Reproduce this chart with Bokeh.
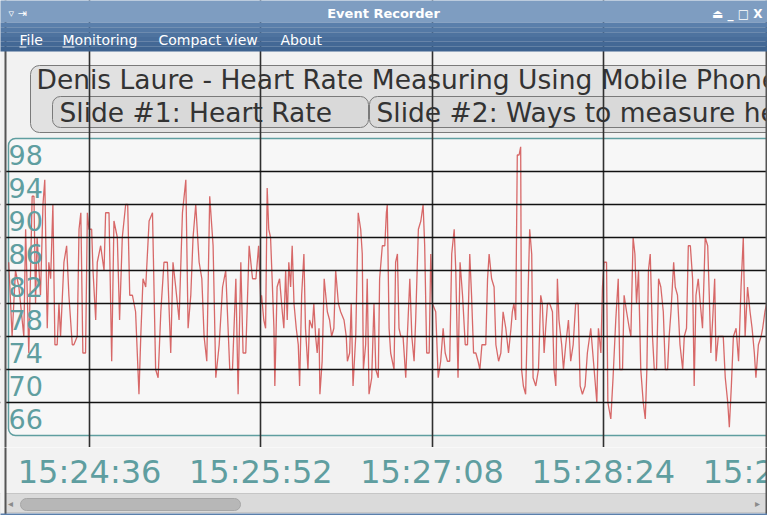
from bokeh.plotting import figure
from bokeh.layouts import column
from bokeh.models import Range1d, FixedTicker, Grid, BoxAnnotation, Label
from bokeh.core.properties import value
from bokeh.embed import file_html
from bokeh.resources import INLINE

# ---------------- data (seconds elapsed since 15:24:00, heart rate in bpm) ----------------
seconds_part1 = [0.1, 1.6, 3.1, 4.6, 6.8, 7.6, 9.0, 10.5, 11.3, 12.0,
                 12.7, 14.2, 15.3, 16.1, 17.2, 17.9, 18.7, 19.7, 20.6, 21.6,
                 22.4, 23.1, 24.6, 25.8, 26.8, 28.3, 29.0, 30.5, 31.3, 32.1,
                 33.0, 34.2, 35.0, 35.7, 36.9, 37.5, 38.7, 39.4, 40.9, 42.4,
                 43.1, 44.6, 45.8, 46.8, 48.3, 49.3, 50.5, 52.0, 52.9, 53.8,
                 55.0, 56.4, 57.9, 58.7, 59.7, 60.9, 62.4, 63.9, 65.3, 66.4,
                 67.6, 69.0, 70.5, 72.0, 73.0, 74.2, 75.7, 77.2, 78.7, 79.7,
                 80.9, 81.9, 83.1, 84.6, 85.8, 86.8, 88.0, 89.3, 90.8, 92.0,
                 93.5, 95.0, 96.4, 98.2, 99.4, 100.9, 101.9, 103.1, 104.1, 105.3,
                 106.8, 108.3, 109.8, 111.0, 112.0]
bpm_part1 = [85, 76, 84, 82, 76, 89, 74, 93, 93, 80,
             88, 81, 92, 95, 77, 85, 83, 92, 75, 75,
             80, 76, 85, 87, 81, 75, 75, 76, 89, 91,
             74, 74, 91, 89, 89, 84, 78, 85, 87, 84,
             91, 91, 73, 90, 88, 78, 88, 92, 92, 81,
             81, 79, 69, 76, 83, 82, 90, 91, 72, 71,
             79, 85, 85, 74, 85, 82, 78, 91, 95, 77,
             81, 88, 92, 85, 83, 76, 73, 93, 87, 71,
             75, 82, 84, 72, 72, 83, 69, 85, 74, 74,
             87, 83, 83, 87, 80]

seconds_part2 = [112.3, 113.3, 114.1, 114.8, 115.5, 116.3, 117.0, 117.8, 118.2, 119.2,
                 120.3, 121.5, 122.2, 123.0, 123.7, 124.4, 125.2, 125.9, 126.7, 127.7,
                 128.6, 129.2, 130.1, 131.1, 131.8, 132.9, 133.6, 134.8, 135.5, 136.3,
                 137.0, 137.8, 138.2, 139.2, 140.1, 141.5, 142.5, 143.4, 144.4, 145.2,
                 146.4, 147.4, 148.9, 149.9, 150.4, 151.4, 152.1, 152.9, 154.1, 155.2,
                 156.3, 157.0, 157.5, 158.5, 159.2, 160.0, 161.2, 162.2, 163.0, 164.1,
                 164.7, 165.9, 167.0, 167.7, 168.1, 168.9, 169.6, 171.1, 171.8, 172.6,
                 173.3, 174.1, 175.1, 176.3, 177.0, 178.1, 179.0, 180.0, 180.7, 181.9,
                 183.0, 184.0, 184.7, 185.6, 186.7, 187.4, 188.1, 189.6, 190.7, 191.8,
                 192.9, 193.8, 194.8, 195.8, 196.7, 197.8, 198.5, 199.5, 200.4, 201.5,
                 202.7, 203.7, 204.7, 205.5, 206.4, 207.4, 208.4, 209.2, 210.1, 211.8,
                 212.6, 213.3, 214.4, 215.5, 216.3, 217.5, 218.5, 219.5, 220.7, 221.9,
                 223.0]
bpm_part2 = [81, 78, 77, 94, 89, 88, 83, 77, 70, 82,
             83, 79, 77, 84, 78, 85, 82, 87, 80, 77,
             75, 70, 81, 86, 77, 72, 78, 77, 80, 76,
             74, 77, 69, 73, 83, 79, 78, 76, 77, 84,
             80, 79, 78, 76, 73, 74, 80, 70, 76, 91,
             89, 86, 72, 75, 83, 69, 71, 80, 72, 71,
             83, 87, 87, 91, 92, 77, 74, 72, 85, 86,
             77, 76, 76, 71, 76, 83, 76, 73, 78, 89,
             90, 92, 87, 74, 74, 86, 80, 79, 71, 73,
             77, 74, 73, 73, 86, 89, 84, 71, 85, 81,
             75, 75, 86, 81, 74, 74, 73, 72, 75, 75,
             83, 86, 83, 82, 75, 73, 74, 79, 77, 74,
             77]

seconds_part3 = [223.6, 224.3, 225.1, 225.8, 226.6, 227.3, 227.7, 228.5, 229.5, 230.3,
                 231.3, 232.2, 232.8, 234.0, 235.2, 236.2, 236.9, 237.7, 238.4, 239.2,
                 240.2, 241.4, 242.1, 242.9, 243.6, 244.3, 245.5, 246.3, 247.3, 248.5,
                 249.5, 250.6, 251.7, 252.8, 253.7, 254.7, 255.9, 256.9, 258.4, 259.9,
                 261.1, 261.8, 262.9, 263.6, 264.3, 265.4, 266.0, 267.3, 268.3, 269.5,
                 270.6, 271.3, 272.5, 273.2, 274.3, 275.5, 276.2, 277.2, 278.0, 278.7,
                 279.6, 280.6, 281.7, 282.6, 283.3, 284.0, 284.8, 285.8, 286.6, 287.6,
                 288.5, 289.5, 290.6, 291.5, 292.5, 293.2, 294.0, 295.2, 295.9, 296.9,
                 298.0, 299.2, 299.9, 300.9, 301.7, 302.6, 303.6, 304.3, 305.1, 306.1,
                 307.0, 308.0, 309.2, 310.3, 311.0, 311.7, 312.5, 313.4, 314.0, 315.0,
                 316.2, 317.2, 318.1, 319.2, 319.9, 320.8, 321.7, 322.9, 324.0, 325.1,
                 326.1, 326.9, 328.0, 329.1, 330.0, 331.0, 331.7, 332.8, 334.0, 334.7,
                 335.7, 336.5]
bpm_part3 = [79, 80, 78, 98, 98, 99, 72, 70, 69, 78,
             89, 86, 71, 70, 72, 81, 80, 74, 77, 80,
             80, 79, 72, 70, 83, 78, 75, 72, 75, 78,
             73, 75, 80, 80, 70, 69, 70, 74, 77, 72,
             68, 77, 74, 82, 85, 85, 68, 66, 71, 78,
             83, 72, 72, 81, 79, 77, 76, 88, 86, 80,
             84, 72, 68, 66, 72, 84, 86, 76, 72, 72,
             83, 82, 79, 72, 72, 76, 79, 85, 82, 81,
             75, 72, 76, 77, 87, 87, 83, 70, 81, 83,
             80, 77, 88, 87, 81, 74, 78, 83, 73, 76,
             76, 76, 71, 68, 65, 70, 76, 77, 73, 82,
             88, 76, 82, 79, 77, 74, 71, 75, 76, 77,
             79, 80]

tick_seconds = [36, 112, 188, 264, 340]
tick_labels = ["15:24:36", "15:25:52", "15:27:08", "15:28:24", "15:29:40"]
band_labels = [98, 94, 90, 86, 82, 78, 74, 70, 66]
grid_levels = [96, 92, 88, 84, 80, 76, 72, 68]
bpm_low, bpm_high = 64, 100

window_title = "Event Recorder"
menu_items = ["File", "Monitoring", "Compact view", "About"]
session_title = "Denis Laure - Heart Rate Measuring Using Mobile Phone"
slide_titles = ["Slide #1: Heart Rate", "Slide #2: Ways to measure heart rate"]

elapsed_s = seconds_part1 + seconds_part2 + seconds_part3
heart_rate = bpm_part1 + bpm_part2 + bpm_part3

# ---------------- layout / style ----------------
W = 767
MAIN_H = 447          # main canvas: window chrome + chart, down to the tick marks
AXIS_H = 68           # strip with the time labels and the scrollbar
LABEL_MID = 24        # px from the top of the strip to the middle of the time labels
ORIGIN_X = 8          # canvas px of elapsed second 0
PANEL_TOP = 138       # canvas px of the 100 bpm edge
PX_PER_S = 171.25 / 76
PX_PER_BPM = 8.25
FONT = "DejaVu Sans"
TEAL = "#5f9ea0"
BG = "#f2f2f2"


def cbox(fig, left, right, top, bottom, **kw):
    """Box in canvas pixels (window chrome only)."""
    fig.add_layout(BoxAnnotation(left=left, right=right, top=top, bottom=bottom,
                                 left_units="canvas", right_units="canvas",
                                 top_units="canvas", bottom_units="canvas",
                                 fill_alpha=1, line_alpha=1, **kw))


def clabel(fig, x, y, text, **kw):
    fig.add_layout(Label(x=x, y=y, x_units="canvas", y_units="canvas", text=text,
                         text_font=FONT, **kw))


x_range = Range1d(-ORIGIN_X / PX_PER_S, (W - ORIGIN_X) / PX_PER_S)
y_range = Range1d(bpm_high - (MAIN_H - PANEL_TOP) / PX_PER_BPM,
                  bpm_high + PANEL_TOP / PX_PER_BPM)

p = figure(width=W, height=MAIN_H, x_range=x_range, y_range=y_range,
           output_backend="svg", toolbar_location=None,
           x_axis_location=None, y_axis_location=None,
           min_border_left=0, min_border_right=0, min_border_top=0, min_border_bottom=0,
           background_fill_color=BG, border_fill_color=BG, outline_line_color=None)
p.center = [r for r in p.center if not isinstance(r, Grid)]

# chart panel (rounded teal frame)
p.add_layout(BoxAnnotation(left=0, right=W + 40, right_units="canvas",
                           top=bpm_high, bottom=bpm_low,
                           fill_color="#f7f7f7", fill_alpha=1,
                           line_color=TEAL, line_width=1.5, line_alpha=1,
                           border_radius=7, level="underlay"))

# session title box and slide boxes (under the grid lines)
cbox(p, 30, W + 40, 65, 132, fill_color="#e1e1e1", line_color="#7a7a7a",
     line_width=1, border_radius=9, level="underlay")
for left, right in [(52, 368), (369, W + 40)]:
    cbox(p, left, right, 96, 127, fill_color="#d9d9d9", line_color="#7a7a7a",
         line_width=1, border_radius=8, level="underlay")

clabel(p, 36, 79, session_title, text_font_size="26.5px", text_color="#333333",
       text_baseline="middle", text_align="left", level="glyph")
for xpos, txt in zip([59, 376], slide_titles):
    clabel(p, xpos, 111.5, txt, text_font_size="26.5px", text_color="#333333",
           text_baseline="middle", text_align="left", level="glyph")

# heart-rate trace
p.line(elapsed_s, heart_rate, line_color="#cc3838", line_width=1.3, line_alpha=0.75)

# band labels inside the panel
p.text(x=[0] * len(band_labels), y=band_labels, text=[str(v) for v in band_labels],
       text_font=value(FONT), text_font_size="27px", text_color=TEAL,
       text_baseline="middle", text_align="left")

# grid lines drawn above the data
p.add_layout(Grid(dimension=0, ticker=FixedTicker(ticks=tick_seconds),
                  grid_line_color="#303030", grid_line_width=1.6, level="annotation"))
p.add_layout(Grid(dimension=1, ticker=FixedTicker(ticks=grid_levels),
                  grid_line_color="#111111", grid_line_width=1.3, level="annotation"))

# window borders, title bar and menu bar (above the grid)
cbox(p, -10, 5, 0, MAIN_H + 10, fill_color=BG, line_color=None, level="overlay")
cbox(p, 4, 6, 0, MAIN_H + 10, fill_color="#555555", line_color=None, level="overlay")
cbox(p, 765, 767, 0, MAIN_H + 10, fill_color="#555555", line_color=None, level="overlay")
cbox(p, -10, W + 10, -10, 22, fill_color="#7e9dc1", line_color=None, level="overlay")
menu_band_colors = ["#5a7fab", "#5479a5", "#4e739f", "#486d9a", "#436895", "#3e6390"]
band_h = 29 / len(menu_band_colors)
for i, c in enumerate(menu_band_colors):
    cbox(p, -10, W + 10, 22 + i * band_h, 22 + (i + 1) * band_h,
         fill_color=c, line_color=None, level="overlay")

clabel(p, 383, 13, window_title, text_font_size="13px", text_font_style="bold",
       text_color="white", text_align="center", text_baseline="middle", level="overlay")
clabel(p, 8, 13, "▿ ⇥", text_font_size="11px", text_color="white",
       text_align="left", text_baseline="middle", level="overlay")
clabel(p, 762, 13, "⏏ _ □ X", text_font_size="12px", text_font_style="bold",
       text_color="white", text_align="right", text_baseline="middle", level="overlay")
for xpos, txt in zip([19, 62, 158, 280], menu_items):
    clabel(p, xpos, 39, txt, text_font_size="14px", text_color="white",
           text_align="left", text_baseline="middle", level="overlay")
for left, right in [(19, 26), (62, 74)]:
    cbox(p, left, right, 46, 47, fill_color="white", line_color=None, level="overlay")

# ---------------- time labels + scrollbar strip ----------------
# shares the time scale of the chart; its y runs in px from the top of the strip
q = figure(width=W, height=AXIS_H, x_range=x_range, y_range=Range1d(AXIS_H, 0),
           output_backend="svg", toolbar_location=None,
           x_axis_location=None, y_axis_location=None,
           min_border_left=0, min_border_right=0, min_border_top=0, min_border_bottom=0,
           background_fill_color=BG, border_fill_color=BG, outline_line_color=None)
q.center = [r for r in q.center if not isinstance(r, Grid)]

q.text(x=tick_seconds, y=[LABEL_MID] * len(tick_seconds), text=tick_labels,
       text_font=value(FONT), text_font_size="32px", text_color=TEAL,
       text_align="center", text_baseline="middle")

cbox(q, -10, W + 10, 46, 65, fill_color="#dadada", line_color="#c6c6c6",
     line_width=1, level="overlay")
cbox(q, 20, 240, 51, 63, fill_color="#b7b7b7", line_color="#a6a6a6",
     line_width=1, border_radius=6, level="overlay")
clabel(q, 10, 56, "◂", text_font_size="10px", text_color="#8a8a8a",
       text_align="center", text_baseline="middle", level="overlay")
clabel(q, 757, 56, "▸", text_font_size="10px", text_color="#8a8a8a",
       text_align="center", text_baseline="middle", level="overlay")
cbox(q, -10, 5, -10, AXIS_H + 10, fill_color=BG, line_color=None, level="overlay")
cbox(q, 4, 6, -10, AXIS_H + 10, fill_color="#555555", line_color=None, level="overlay")
cbox(q, 765, 767, -10, AXIS_H + 10, fill_color="#555555", line_color=None, level="overlay")
cbox(q, -10, W + 10, 66, AXIS_H + 10, fill_color="#5a7fab", line_color=None, level="overlay")

page = column(p, q, spacing=0)
open("out.html", "w").write(file_html(page, INLINE, title=window_title))
